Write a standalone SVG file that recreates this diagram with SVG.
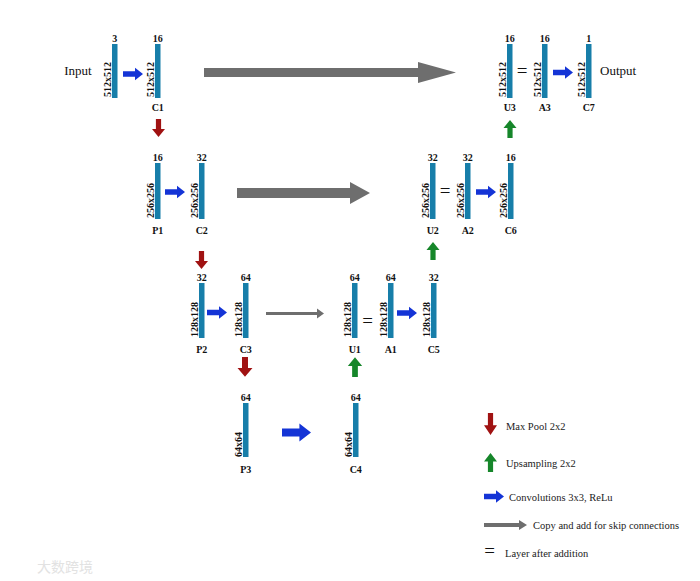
<svg xmlns="http://www.w3.org/2000/svg" xmlns:xlink="http://www.w3.org/1999/xlink" width="700" height="581" viewBox="0 0 700 581">
<defs>
<style>
.bar{fill:#177ea9}
.lbl{font-family:"Liberation Serif","Times New Roman",serif;font-weight:bold;font-size:10px;fill:#111;text-anchor:middle}
.dim{font-family:"Liberation Serif","Times New Roman",serif;font-weight:bold;font-size:10px;fill:#111;text-anchor:start}
.big{font-family:"Liberation Serif","Times New Roman",serif;font-size:13px;fill:#111}
.leg{font-family:"Liberation Serif","Times New Roman",serif;font-size:10.5px;fill:#222}
.eq{font-family:"Liberation Serif","Times New Roman",serif;font-size:19px;fill:#111;text-anchor:middle}
.blue{fill:#1434d6}
.red{fill:#a01212}
.green{fill:#16862a}
.gray{fill:#6e6e6e}
</style>
<path id="ar" d="M0,-2.8 H12 V-6.2 L20,0 L12,6.2 V2.8 H0 Z"/>
<path id="ad" d="M-2.6,0 V10 H-6.5 L0,18 L6.5,10 H2.6 V0 Z"/>
<path id="au" d="M-2.6,0 V-10 H-6.5 L0,-18 L6.5,-10 H2.6 V0 Z"/>
</defs>
<rect width="700" height="581" fill="#fff"/>

<g id="connectors">
<path class="gray" d="M204,68 H418 V62 L456,72.5 L418,83 V77 H204 Z"/>
<path class="gray" d="M237,188 H350 V182 L370,193 L350,204 V198 H237 Z"/>
<path class="gray" d="M266,312 H317 V308.5 L324,313.5 L317,318.5 V315 H266 Z"/>
<use xlink:href="#ar" class="blue" transform="translate(123,74)"/>
<use xlink:href="#ar" class="blue" transform="translate(553,72.5)"/>
<use xlink:href="#ar" class="blue" transform="translate(165,192)"/>
<use xlink:href="#ar" class="blue" transform="translate(476,192)"/>
<use xlink:href="#ar" class="blue" transform="translate(207,312.5)"/>
<use xlink:href="#ar" class="blue" transform="translate(397,313)"/>
<use xlink:href="#ar" class="blue" transform="translate(282,432.5) scale(1.45)"/>
<use xlink:href="#ad" class="red" transform="translate(158.5,119)"/>
<use xlink:href="#ad" class="red" transform="translate(201.5,251)"/>
<use xlink:href="#ad" class="red" transform="translate(245,357) scale(1.15,1.1)"/>
<use xlink:href="#au" class="green" transform="translate(510,138)"/>
<use xlink:href="#au" class="green" transform="translate(433,260)"/>
<use xlink:href="#au" class="green" transform="translate(355,377) scale(1.1,1.1)"/>
<text class="eq" x="522" y="77">=</text>
<text class="eq" x="445" y="197">=</text>
<text class="eq" x="367.5" y="327">=</text>
</g>

<g id="input">
<text class="big" x="78" y="74.5" text-anchor="middle">Input</text>
<rect class="bar" x="112" y="44" width="5.5" height="54"/>
<text class="lbl" x="114.75" y="41.5">3</text>
<text class="dim" transform="translate(111,97) rotate(-90)">512x512</text>
</g>
<g id="C1">
<rect class="bar" x="155" y="44" width="5.5" height="54"/>
<text class="lbl" x="157.75" y="41.5">16</text>
<text class="dim" transform="translate(154,97) rotate(-90)">512x512</text>
<text class="lbl" x="157.75" y="110.5">C1</text>
</g>
<g id="U3">
<rect class="bar" x="507" y="44" width="5.5" height="54"/>
<text class="lbl" x="509.75" y="41.5">16</text>
<text class="dim" transform="translate(506,97) rotate(-90)">512x512</text>
<text class="lbl" x="509.75" y="110.5">U3</text>
</g>
<g id="A3">
<rect class="bar" x="542" y="44" width="5.5" height="54"/>
<text class="lbl" x="544.75" y="41.5">16</text>
<text class="dim" transform="translate(541,97) rotate(-90)">512x512</text>
<text class="lbl" x="544.75" y="110.5">A3</text>
</g>
<g id="C7">
<rect class="bar" x="586" y="44" width="5.5" height="54"/>
<text class="lbl" x="588.75" y="41.5">1</text>
<text class="dim" transform="translate(585,97) rotate(-90)">512x512</text>
<text class="lbl" x="588.75" y="110.5">C7</text>
<text class="big" x="600" y="74.5">Output</text>
</g>

<g id="P1">
<rect class="bar" x="155" y="163" width="5.5" height="56"/>
<text class="lbl" x="157.75" y="160.5">16</text>
<text class="dim" transform="translate(154,218) rotate(-90)">256x256</text>
<text class="lbl" x="157.75" y="233.5">P1</text>
</g>
<g id="C2">
<rect class="bar" x="199" y="163" width="5.5" height="56"/>
<text class="lbl" x="201.75" y="160.5">32</text>
<text class="dim" transform="translate(198,218) rotate(-90)">256x256</text>
<text class="lbl" x="201.75" y="233.5">C2</text>
</g>
<g id="U2">
<rect class="bar" x="430" y="163" width="5.5" height="56"/>
<text class="lbl" x="432.75" y="160.5">32</text>
<text class="dim" transform="translate(429,218) rotate(-90)">256x256</text>
<text class="lbl" x="432.75" y="233.5">U2</text>
</g>
<g id="A2">
<rect class="bar" x="465" y="163" width="5.5" height="56"/>
<text class="lbl" x="467.75" y="160.5">32</text>
<text class="dim" transform="translate(464,218) rotate(-90)">256x256</text>
<text class="lbl" x="467.75" y="233.5">A2</text>
</g>
<g id="C6">
<rect class="bar" x="508" y="163" width="5.5" height="56"/>
<text class="lbl" x="510.75" y="160.5">16</text>
<text class="dim" transform="translate(507,218) rotate(-90)">256x256</text>
<text class="lbl" x="510.75" y="233.5">C6</text>
</g>

<g id="P2">
<rect class="bar" x="199" y="283" width="5.5" height="55"/>
<text class="lbl" x="201.75" y="280.5">32</text>
<text class="dim" transform="translate(198,337) rotate(-90)">128x128</text>
<text class="lbl" x="201.75" y="352.5">P2</text>
</g>
<g id="C3">
<rect class="bar" x="243" y="283" width="5.5" height="55"/>
<text class="lbl" x="245.75" y="280.5">64</text>
<text class="dim" transform="translate(242,337) rotate(-90)">128x128</text>
<text class="lbl" x="245.75" y="352.5">C3</text>
</g>
<g id="U1">
<rect class="bar" x="352" y="283" width="5.5" height="55"/>
<text class="lbl" x="354.75" y="280.5">64</text>
<text class="dim" transform="translate(351,337) rotate(-90)">128x128</text>
<text class="lbl" x="354.75" y="352.5">U1</text>
</g>
<g id="A1">
<rect class="bar" x="388" y="283" width="5.5" height="55"/>
<text class="lbl" x="390.75" y="280.5">64</text>
<text class="dim" transform="translate(387,337) rotate(-90)">128x128</text>
<text class="lbl" x="390.75" y="352.5">A1</text>
</g>
<g id="C5">
<rect class="bar" x="431" y="283" width="5.5" height="55"/>
<text class="lbl" x="433.75" y="280.5">32</text>
<text class="dim" transform="translate(430,337) rotate(-90)">128x128</text>
<text class="lbl" x="433.75" y="352.5">C5</text>
</g>

<g id="P3">
<rect class="bar" x="243" y="403" width="5.5" height="54"/>
<text class="lbl" x="245.75" y="400.5">64</text>
<text class="dim" transform="translate(242,457) rotate(-90)">64x64</text>
<text class="lbl" x="245.75" y="472.5">P3</text>
</g>
<g id="C4">
<rect class="bar" x="353" y="403" width="5.5" height="54"/>
<text class="lbl" x="355.75" y="400.5">64</text>
<text class="dim" transform="translate(352,457) rotate(-90)">64x64</text>
<text class="lbl" x="355.75" y="472.5">C4</text>
</g>

<g id="legend">
<use xlink:href="#ad" class="red" transform="translate(490.5,413) scale(1,1.22)"/>
<text class="leg" x="506" y="429.5">Max Pool 2x2</text>
<use xlink:href="#au" class="green" transform="translate(490.5,472) scale(1,1.06)"/>
<text class="leg" x="506" y="466.5">Upsampling 2x2</text>
<use xlink:href="#ar" class="blue" transform="translate(484,496.5)"/>
<text class="leg" x="509" y="500.5">Convolutions 3x3, ReLu</text>
<path class="gray" d="M484,523 H519 V520 L527,525 L519,530 V527 H484 Z"/>
<text class="leg" x="533" y="528.5">Copy and add for skip connections</text>
<text class="eq" x="489.5" y="557">=</text>
<text class="leg" x="505" y="556.5">Layer after addition</text>
</g>

<text x="37" y="572" font-family="'Noto Sans CJK SC',sans-serif" font-size="14" fill="#e2e2e2">大数跨境</text>
</svg>
